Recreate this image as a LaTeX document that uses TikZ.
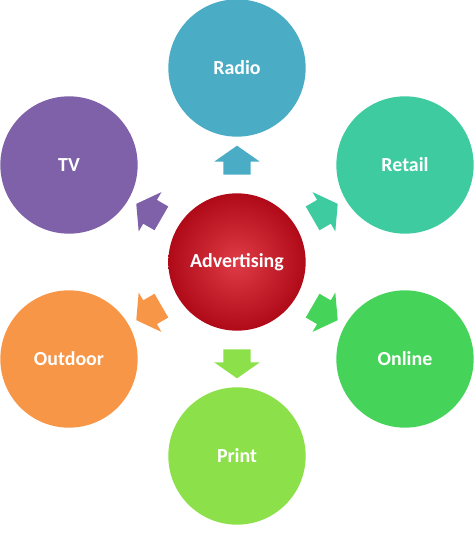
\documentclass[tikz,border=0pt]{standalone}
\usepackage{fontspec}
\setmainfont{Carlito}
\usetikzlibrary{shapes,arrows}
\usetikzlibrary{positioning}
\definecolor{radiocol}{HTML}{4BACC6}
\definecolor{tvcol}{HTML}{7E61A8}
\definecolor{retailcol}{HTML}{3ECBA0}
\definecolor{outdoorcol}{HTML}{F79646}
\definecolor{onlinecol}{HTML}{45D35A}
\definecolor{printcol}{HTML}{8CE04A}
\definecolor{adlight}{HTML}{DE3C46}
\definecolor{addark}{HTML}{B00A18}
\begin{document}
\begin{tikzpicture}[x=0.03cm,y=0.03cm,
  topic/.style={circle,minimum size=4.12cm,inner sep=0pt,text=white,font=\fontsize{17}{20}\selectfont\bfseries},
  pointer/.style={single arrow,minimum height=0.87cm,text height=0.81cm,text depth=0pt,text width=0pt,single arrow head extend=0.27cm,single arrow tip angle=110,inner sep=0pt}]
\useasboundingbox (-237,-293) rectangle (237,262);
% centre
\path node[topic,shading=radial,inner color=adlight,outer color=addark] (ad) {Advertising};
% media
\path node[topic,fill=radiocol] (radio) at (90:194) {Radio};
\path node[topic,fill=retailcol] (retail) at (30:194) {Retail};
\path node[topic,fill=onlinecol] (online) at (-30:194) {Online};
\path node[topic,fill=printcol] (print) at (-90:194) {Print};
\path node[topic,fill=outdoorcol] (outdoor) at (-150:194) {Outdoor};
\path node[topic,fill=tvcol] (tv) at (150:194) {TV};
% block arrows
\path node[pointer,fill=radiocol,rotate=90] (a1) at (90:97) {};
\path node[pointer,fill=retailcol,rotate=30] (a2) at (30:97) {};
\path node[pointer,fill=onlinecol,rotate=-30] (a3) at (-30:97) {};
\path node[pointer,fill=printcol,rotate=-90] (a4) at (-90:97) {};
\path node[pointer,fill=outdoorcol,rotate=-150] (a5) at (-150:97) {};
\path node[pointer,fill=tvcol,rotate=150] (a6) at (150:97) {};
\end{tikzpicture}
\end{document}
